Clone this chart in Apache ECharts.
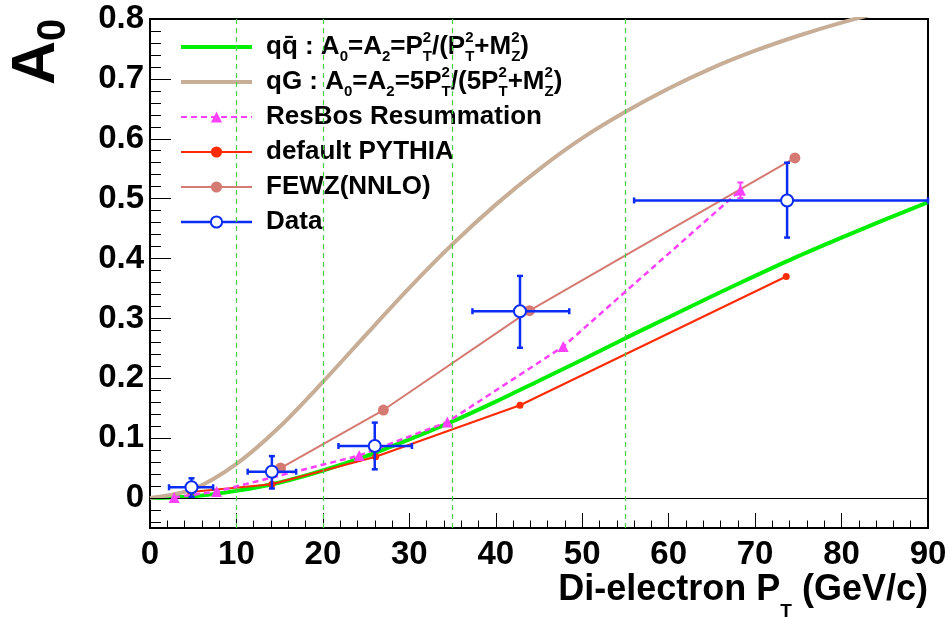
<!DOCTYPE html>
<html>
<head>
<meta charset="utf-8">
<script src="https://cdn.jsdelivr.net/npm/echarts@6/dist/echarts.min.js"></script>
<style>
html, body { margin: 0; padding: 0; background: #fff; }
#main { width: 948px; height: 617px; }
</style>
</head>
<body>
<div id="main"></div>
<script>
var FONT = "'Liberation Sans', Arial, Helvetica, sans-serif";

// theory curves, every 5 GeV
var curveX = [0, 5, 10, 15, 20, 25, 30, 35, 40, 45, 50, 55, 60, 65, 70, 75, 80, 85, 90];
var qqbarY = [0, 0.003, 0.012, 0.026, 0.046, 0.070, 0.098, 0.128, 0.161, 0.196, 0.231, 0.267, 0.302, 0.337, 0.371, 0.404, 0.435, 0.465, 0.494];
var qgY = [0, 0.015, 0.057, 0.119, 0.194, 0.273, 0.351, 0.424, 0.490, 0.549, 0.601, 0.645, 0.684, 0.718, 0.747, 0.772, 0.794, 0.813];

// ResBos
var resbosX = [2.8, 7.7, 24.2, 34.4, 47.8, 68.3];
var resbosY = [0.001, 0.011, 0.071, 0.127, 0.253, 0.514];
var resbosErr = [0, 0, 0, 0, 0, 0.013];

// PYTHIA
var pythiaX = [4.7, 14.1, 26.1, 42.8, 73.6];
var pythiaY = [0.010, 0.023, 0.069, 0.155, 0.370];

// FEWZ
var fewzX = [15.1, 27.0, 43.9, 74.6];
var fewzY = [0.050, 0.147, 0.313, 0.568];

// Data with errors
var dataX = [4.8, 14.1, 26.0, 42.8, 73.7];
var dataY = [0.018, 0.044, 0.087, 0.312, 0.497];
var dataXLo = [2.2, 11.3, 21.8, 37.3, 56.0];
var dataXHi = [7.3, 16.9, 30.3, 48.5, 90.0];
var dataYLo = [0.002, 0.016, 0.048, 0.251, 0.435];
var dataYHi = [0.033, 0.070, 0.126, 0.371, 0.560];

// axes
var xTicks = [0, 10, 20, 30, 40, 50, 60, 70, 80, 90];
var yTicks = [0, 0.1, 0.2, 0.3, 0.4, 0.5, 0.6, 0.7, 0.8];
var cutLines = [10, 20, 35, 55];

var yMinor = [];
for (var i = -2; i <= 40; i++) {
  if (i % 5 !== 0) yMinor.push(Math.round(i * 2) / 100);
}

function zip(xs, ys) {
  return xs.map(function (x, k) { return [x, ys[k]]; });
}

function rs(size, lh, va, extra) {
  var o = { fontFamily: FONT, fontWeight: 'bold', fontSize: size, lineHeight: lh, color: '#000', verticalAlign: va };
  for (var k in extra) o[k] = extra[k];
  return o;
}

var legendText = {
  'qqbar': '{b|qq\u0304 : A}{sb|0}{b|=A}{sb|2}{b|=P}{sp|2}{sb|T}{b|/(P}{sp|2}{sb|T}{b|+M}{sp|2}{sb|Z}{b|)}',
  'qG': '{b|qG : A}{sb|0}{b|=A}{sb|2}{b|=5P}{sp|2}{sb|T}{b|/(5P}{sp|2}{sb|T}{b|+M}{sp|2}{sb|Z}{b|)}'
};

function errBars(color, width, cap) {
  return function (params, api) {
    var x = api.value(0), y = api.value(1);
    var l = api.coord([api.value(2), y]), r = api.coord([api.value(3), y]);
    var b = api.coord([x, api.value(4)]), t = api.coord([x, api.value(5)]);
    var st = { stroke: color, lineWidth: width };
    var kids = [];
    if (r[0] - l[0] > 0.5) {
      kids.push({ type: 'line', shape: { x1: l[0], y1: l[1], x2: r[0], y2: r[1] }, style: st });
      kids.push({ type: 'line', shape: { x1: l[0], y1: l[1] - cap, x2: l[0], y2: l[1] + cap }, style: st });
      kids.push({ type: 'line', shape: { x1: r[0], y1: r[1] - cap, x2: r[0], y2: r[1] + cap }, style: st });
    }
    if (b[1] - t[1] > 0.5) {
      kids.push({ type: 'line', shape: { x1: b[0], y1: b[1], x2: t[0], y2: t[1] }, style: st });
      kids.push({ type: 'line', shape: { x1: t[0] - cap, y1: t[1], x2: t[0] + cap, y2: t[1] }, style: st });
      kids.push({ type: 'line', shape: { x1: b[0] - cap, y1: b[1], x2: b[0] + cap, y2: b[1] }, style: st });
    }
    return { type: 'group', children: kids };
  };
}

var dataErr = dataX.map(function (x, k) {
  return [x, dataY[k], dataXLo[k], dataXHi[k], dataYLo[k], dataYHi[k]];
});
var resbosErrData = resbosX.map(function (x, k) {
  return [x, resbosY[k], x, x, resbosY[k] - resbosErr[k], resbosY[k] + resbosErr[k]];
});

var chart = echarts.init(document.getElementById('main'));

var option = {
  animation: false,
  backgroundColor: '#fff',
  grid: {
    left: 150, right: 20, top: 19, bottom: 89,
    show: true, borderColor: '#000', borderWidth: 2,
    containLabel: false, outerBoundsMode: 'none'
  },
  legend: {
    orient: 'vertical', left: 179, top: 30, padding: 0,
    itemWidth: 71, itemHeight: 14, itemGap: 1,
    selectedMode: false,
    textStyle: {
      fontFamily: FONT, fontSize: 26, fontWeight: 'bold', color: '#000', lineHeight: 34,
      padding: [0, 0, 0, 9],
      rich: {
        b: rs(26, 34, 'middle'),
        sb: rs(15, 15, 'bottom'),
        sp: rs(15, 15, 'top', { width: 0 })
      }
    },
    formatter: function (name) { return legendText[name] || name; },
    data: [
      { name: 'qqbar', itemStyle: { opacity: 0 }, lineStyle: { width: 4 } },
      { name: 'qG', itemStyle: { opacity: 0 }, lineStyle: { width: 4 } },
      { name: 'ResBos Resummation' },
      { name: 'default PYTHIA' },
      { name: 'FEWZ(NNLO)' },
      { name: 'Data', lineStyle: { width: 2.5, color: '#0a2cf5' } }
    ]
  },
  xAxis: {
    type: 'value', min: 0, max: 90, interval: 10,
    axisLine: { show: true, onZero: false, lineStyle: { color: '#000', width: 2 } },
    axisTick: { show: true, inside: true, length: 15, customValues: xTicks, lineStyle: { color: '#000', width: 1 } },
    minorTick: { show: true, splitNumber: 5, length: 7.5, lineStyle: { color: '#000', width: 1 } },
    splitLine: { show: false },
    axisLabel: { customValues: xTicks, color: '#000', fontFamily: FONT, fontSize: 33, fontWeight: 'bold', margin: 10 },
    name: '{b|Di-electron P}{s|T}{b| (GeV/c)}',
    nameLocation: 'end', nameGap: 0, nameMoveOverlap: false,
    nameTextStyle: {
      align: 'right', verticalAlign: 'top', padding: [44, 0, 0, 0],
      rich: {
        b: rs(36, 40, 'top'),
        s: rs(19, 19, 'top', { padding: [30, 0, 0, 0] })
      }
    }
  },
  yAxis: [{
    type: 'value', min: -0.05, max: 0.8,
    axisLine: { show: true, onZero: false, lineStyle: { color: '#000', width: 2 } },
    axisTick: { show: true, inside: true, length: 21, customValues: yTicks, lineStyle: { color: '#000', width: 1 } },
    splitLine: { show: false },
    axisLabel: { customValues: yTicks, color: '#000', fontFamily: FONT, fontSize: 33, fontWeight: 'bold', margin: 6 }
  }, {
    type: 'value', min: -0.05, max: 0.8, position: 'left',
    axisLine: { show: false },
    axisTick: { show: true, inside: true, length: 11, customValues: yMinor, lineStyle: { color: '#000', width: 1 } },
    axisLabel: { show: false },
    splitLine: { show: false }
  }],
  graphic: [{
    type: 'text', x: 7, y: 85, rotation: Math.PI / 2,
    style: {
      text: '{a|A}{s|0}',
      rich: {
        a: rs(61, 60, 'top'),
        s: rs(40, 40, 'top', { padding: [27, 0, 0, 0] })
      }
    }
  }],
  series: [
    {
      name: 'qqbar', type: 'line', data: zip(curveX, qqbarY), smooth: 0.3,
      symbol: 'none', z: 2,
      lineStyle: { color: '#00ee00', width: 4 }, itemStyle: { color: '#00ee00' },
      markLine: {
        silent: true, symbol: 'none', label: { show: false },
        lineStyle: { color: '#4fd04f', type: [5, 4], width: 1.3 },
        emphasis: { disabled: true },
        data: [{ yAxis: 0, lineStyle: { color: '#000', type: 'solid', width: 1.2 } }].concat(
          cutLines.map(function (v) { return { xAxis: v, lineStyle: { color: '#4fd04f', type: [5, 4], width: 1.3 } }; }))
      }
    },
    {
      name: 'qG', type: 'line', data: zip(curveX, qgY), smooth: 0.3,
      symbol: 'none', z: 2,
      lineStyle: { color: '#c8ae96', width: 4 }, itemStyle: { color: '#c8ae96' }
    },
    {
      name: 'FEWZ(NNLO)', type: 'line', data: zip(fewzX, fewzY),
      symbol: 'circle', symbolSize: 11, z: 3,
      lineStyle: { color: '#d57a72', width: 2 }, itemStyle: { color: '#d57a72' }
    },
    {
      name: 'default PYTHIA', type: 'line', data: zip(pythiaX, pythiaY),
      symbol: 'circle', symbolSize: 7, z: 4,
      lineStyle: { color: '#ff2a00', width: 2 }, itemStyle: { color: '#ff2a00' }
    },
    {
      name: 'resbosErr', type: 'custom', data: resbosErrData, z: 5,
      renderItem: errBars('#ff40ff', 2, 3), silent: true
    },
    {
      name: 'ResBos Resummation', type: 'line', data: zip(resbosX, resbosY),
      symbol: 'triangle', symbolSize: 11, z: 5,
      lineStyle: { color: '#ff40ff', width: 2.5, type: [6, 4] }, itemStyle: { color: '#ff40ff' }
    },
    {
      name: 'dataErr', type: 'custom', data: dataErr, z: 6,
      renderItem: errBars('#0a2cf5', 2.5, 3), silent: true
    },
    {
      name: 'Data', type: 'line', data: zip(dataX, dataY),
      symbol: 'emptyCircle', symbolSize: 12, z: 7,
      lineStyle: { width: 0, color: '#0a2cf5' },
      itemStyle: { color: '#0a2cf5', borderColor: '#0a2cf5', borderWidth: 1.5 }
    }
  ]
};

chart.setOption(option);
</script>
</body>
</html>
